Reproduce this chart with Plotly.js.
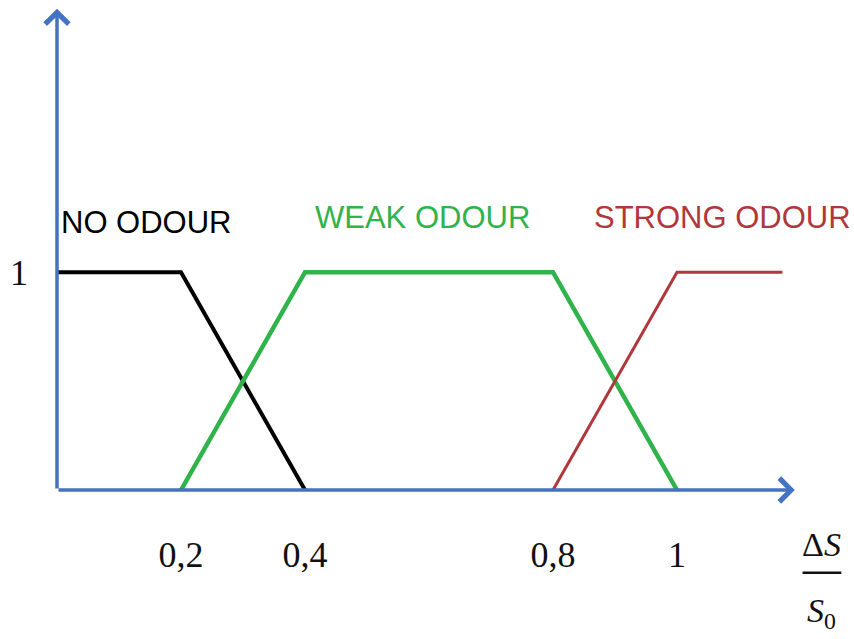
<!DOCTYPE html>
<html>
<head>
<meta charset="utf-8">
<script src="https://cdn.plot.ly/plotly-3.0.1.min.js"></script>
<style>html,body{margin:0;padding:0;background:#fff;}#chart{width:854px;height:639px;}</style>
</head>
<body>
<div id="chart"></div>
<script>
// Membership functions (x = ΔS/S0, y = membership degree)
var noOdourX = [0, 0.2, 0.4];
var noOdourY = [1, 1, 0];
var weakOdourX = [0.2, 0.4, 0.8, 1];
var weakOdourY = [0, 1, 1, 0];
var strongOdourX = [0.8, 1, 1.17];
var strongOdourY = [0, 1, 1];

var xTickVals = [0.2, 0.4, 0.8, 1];
var xTickText = ["0,2", "0,4", "0,8", "1"];
var yTickVals = [1];
var yTickText = ["1"];

var seriesNames = ["NO ODOUR", "WEAK ODOUR", "STRONG ODOUR"];
var seriesColors = ["#000000", "#2fb34a", "#b0373c"];

var AXIS = "#4472c4";

var traces = [
  {x: noOdourX, y: noOdourY, mode: "lines", line: {color: seriesColors[0], width: 4}, hoverinfo: "skip", showlegend: false, cliponaxis: false},
  {x: weakOdourX, y: weakOdourY, mode: "lines", line: {color: seriesColors[1], width: 4.5}, hoverinfo: "skip", showlegend: false, cliponaxis: false},
  {x: strongOdourX, y: strongOdourY, mode: "lines", line: {color: seriesColors[2], width: 3}, hoverinfo: "skip", showlegend: false, cliponaxis: false}
];

var labelFont = {family: "Liberation Sans, Arial, sans-serif", size: 31};
var serif = "Liberation Serif, Times New Roman, serif";

var layout = {
  width: 854, height: 639,
  margin: {l: 57, r: 22, t: 0, b: 149},
  paper_bgcolor: "#ffffff", plot_bgcolor: "#ffffff",
  xaxis: {range: [0, 1.25], showgrid: false, zeroline: false, showline: false,
          tickvals: xTickVals, ticktext: xTickText, ticks: "", ticklabelstandoff: 40,
          tickfont: {family: serif, size: 36, color: "#111"}},
  yaxis: {range: [0, 2.25], showgrid: false, zeroline: false, showline: false,
          tickvals: yTickVals, ticktext: yTickText, ticks: "", ticklabelstandoff: 28,
          tickfont: {family: serif, size: 36, color: "#111"}},
  annotations: [
    {x: 1.19, y: 0, ax: 0, ay: 0, xref: "x", yref: "y", axref: "x", ayref: "y", text: "", showarrow: true,
     arrowhead: 4, arrowsize: 1.3, arrowwidth: 3.5, arrowcolor: AXIS, standoff: 0, startstandoff: 0},
    {x: 0, y: 2.21, ax: 0, ay: 0, xref: "x", yref: "y", axref: "x", ayref: "y", text: "", showarrow: true,
     arrowhead: 4, arrowsize: 1.3, arrowwidth: 3.5, arrowcolor: AXIS, standoff: 0, startstandoff: 0},
    {x: 0.145, y: 1.23, xref: "x", yref: "y", text: seriesNames[0], showarrow: false, font: {family: labelFont.family, size: labelFont.size, color: seriesColors[0]}},
    {x: 0.589, y: 1.25, xref: "x", yref: "y", text: seriesNames[1], showarrow: false, font: {family: labelFont.family, size: labelFont.size, color: seriesColors[1]}},
    {x: 1.073, y: 1.25, xref: "x", yref: "y", text: seriesNames[2], showarrow: false, font: {family: labelFont.family, size: labelFont.size, color: seriesColors[2]}},
    {x: 0.987, y: -0.112, xref: "paper", yref: "paper", xanchor: "center", yanchor: "middle", text: "Δ<i>S</i>", showarrow: false, font: {family: serif, size: 34, color: "#111"}},
    {x: 0.987, y: -0.251, xref: "paper", yref: "paper", xanchor: "center", yanchor: "middle", text: "<i>S</i><sub>0</sub>", showarrow: false, font: {family: serif, size: 34, color: "#111"}}
  ],
  shapes: [
    {type: "line", xref: "paper", yref: "paper", x0: 0.962, x1: 1.012, y0: -0.169, y1: -0.169, line: {color: "#111", width: 2.5}}
  ]
};

Plotly.newPlot("chart", traces, layout, {displayModeBar: false, staticPlot: true});
</script>
</body>
</html>
